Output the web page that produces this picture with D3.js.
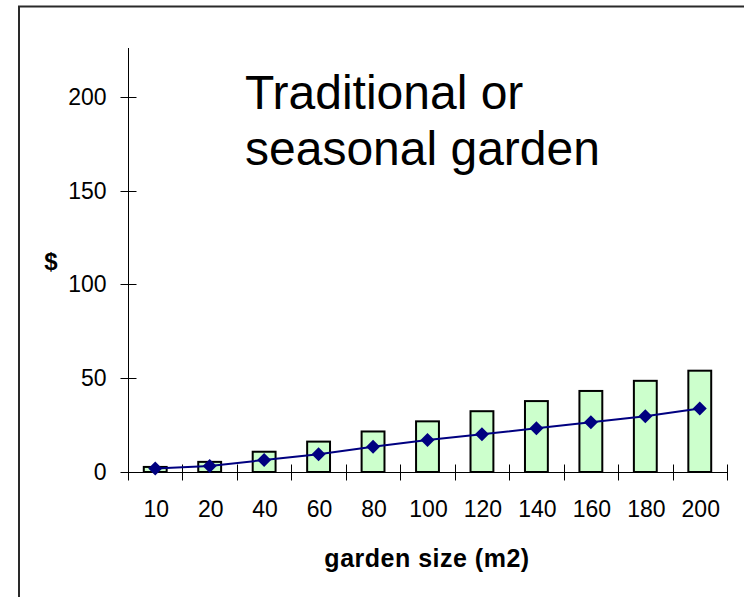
<!DOCTYPE html>
<html>
<head>
<meta charset="utf-8">
<script src="https://cdn.jsdelivr.net/npm/d3@7"></script>
<style>
  html, body { margin: 0; padding: 0; background: #fff; }
  svg { display: block; }
  text { font-family: "Liberation Sans", Arial, Helvetica, sans-serif; fill: #000; }
</style>
</head>
<body>
<svg id="chart" width="744" height="597"></svg>
<script>
const categories = ["10", "20", "40", "60", "80", "100", "120", "140", "160", "180", "200"];
const barValues  = [2.7, 5.4, 10.8, 16.2, 21.6, 27, 32.4, 37.8, 43.2, 48.6, 54];
const lineValues = [1.8, 3.2, 6.4, 9.4, 13.5, 17.1, 20.1, 23.3, 26.5, 29.7, 33.8];
const yTicks = [0, 50, 100, 150, 200];
const titleLines = ["Traditional or", "seasonal garden"];
const yLabel = "$";
const xLabel = "garden size (m2)";

const svg = d3.select("#chart");

// outer frame (extends beyond the viewport on right and bottom)
svg.append("rect")
  .attr("x", 19).attr("y", 6.5)
  .attr("width", 800).attr("height", 700)
  .attr("fill", "none").attr("stroke", "#2a2a2a").attr("stroke-width", 2);

const plot = { left: 128, right: 727, top: 48, bottom: 472 };
const yMax = 226;

const x = d3.scaleBand().domain(categories).range([plot.left, plot.right]).padding(0);
const y = d3.scaleLinear().domain([0, yMax]).range([plot.bottom, plot.top]);

// bars
const bw = x.bandwidth() * 0.42;
svg.append("g").selectAll("rect")
  .data(barValues)
  .join("rect")
  .attr("x", (d, i) => x(categories[i]) + (x.bandwidth() - bw) / 2)
  .attr("y", d => y(d))
  .attr("width", bw)
  .attr("height", d => y(0) - y(d))
  .attr("fill", "#CCFFCC")
  .attr("stroke", "#000")
  .attr("stroke-width", 2);

// y axis
const yAxisG = svg.append("g").attr("transform", `translate(${plot.left + 0.5},0)`);
yAxisG.append("line")
  .attr("x1", 0).attr("x2", 0)
  .attr("y1", y(yMax)).attr("y2", y(0))
  .attr("stroke", "#000").attr("stroke-width", 1);
yAxisG.selectAll("line.tick")
  .data(yTicks).join("line").attr("class", "tick")
  .attr("x1", -8).attr("x2", 8)
  .attr("y1", d => Math.round(y(d)) + 0.5).attr("y2", d => Math.round(y(d)) + 0.5)
  .attr("stroke", "#000").attr("stroke-width", 1);
yAxisG.selectAll("text")
  .data(yTicks).join("text")
  .attr("x", -22).attr("y", d => y(d) + 8)
  .attr("text-anchor", "end")
  .attr("font-size", 23)
  .text(d => d);

// x axis
const xAxisG = svg.append("g").attr("transform", `translate(0,${Math.round(y(0)) + 0.5})`);
xAxisG.append("line")
  .attr("x1", plot.left).attr("x2", plot.right)
  .attr("y1", 0).attr("y2", 0)
  .attr("stroke", "#000").attr("stroke-width", 1);
const boundaries = categories.map(c => x(c)).concat([x(categories[categories.length - 1]) + x.bandwidth()]);
xAxisG.selectAll("line.tick")
  .data(boundaries).join("line").attr("class", "tick")
  .attr("x1", d => Math.round(d) + 0.5).attr("x2", d => Math.round(d) + 0.5)
  .attr("y1", -8).attr("y2", 8)
  .attr("stroke", "#000").attr("stroke-width", 1);
xAxisG.selectAll("text")
  .data(categories).join("text")
  .attr("x", d => x(d) + x.bandwidth() / 2 + 1)
  .attr("y", 44.5)
  .attr("text-anchor", "middle")
  .attr("font-size", 23)
  .text(d => d);

// line series
const line = d3.line()
  .x((d, i) => x(categories[i]) + x.bandwidth() / 2)
  .y(d => y(d));
svg.append("path")
  .datum(lineValues)
  .attr("d", line)
  .attr("fill", "none")
  .attr("stroke", "#000080")
  .attr("stroke-width", 2);

svg.append("g").selectAll("path")
  .data(lineValues)
  .join("path")
  .attr("transform", (d, i) => `translate(${x(categories[i]) + x.bandwidth() / 2},${y(d)})`)
  .attr("d", "M0,-7L7,0L0,7L-7,0Z")
  .attr("fill", "#000080");

// title
svg.append("text")
  .attr("x", 245).attr("font-size", 48)
  .selectAll("tspan")
  .data(titleLines).join("tspan")
  .attr("x", 245)
  .attr("y", (d, i) => 109 + i * 56)
  .text(d => d);

// axis titles
svg.append("text")
  .attr("x", 51).attr("y", 270)
  .attr("text-anchor", "middle")
  .attr("font-size", 24).attr("font-weight", "bold")
  .text(yLabel);

svg.append("text")
  .attr("x", 427).attr("y", 567)
  .attr("text-anchor", "middle")
  .attr("font-size", 25).attr("font-weight", "bold")
  .attr("letter-spacing", 0.5)
  .text(xLabel);
</script>
</body>
</html>
